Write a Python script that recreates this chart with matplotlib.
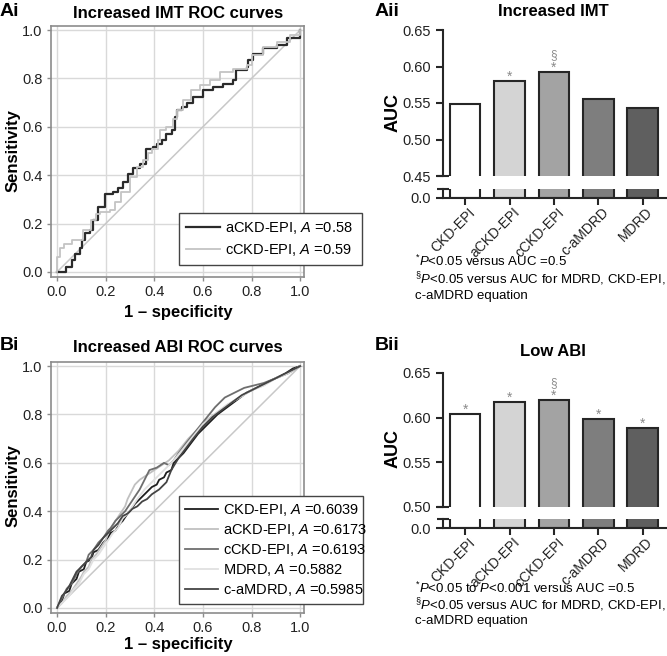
import matplotlib
matplotlib.use("Agg")
from matplotlib import pyplot as plt
from matplotlib.transforms import ScaledTranslation, blended_transform_factory

plt.rcParams['font.family'] = ['Liberation Sans', 'DejaVu Sans']
plt.rcParams['mathtext.fontset'] = 'custom'
plt.rcParams['mathtext.rm'] = 'Liberation Sans'
plt.rcParams['mathtext.it'] = 'Liberation Sans:italic'
plt.rcParams['mathtext.bf'] = 'Liberation Sans:bold'

# ---- data ----
equations = ["CKD-EPI", "aCKD-EPI", "cCKD-EPI", "c-aMDRD", "MDRD"]

imt_auc = [0.548, 0.580, 0.592, 0.555, 0.543]
imt_star = [False, True, True, False, False]
imt_sect = [False, False, True, False, False]

abi_auc = [0.6039, 0.6173, 0.6193, 0.5985, 0.5882]
abi_star = [True, True, True, True, True]
abi_sect = [False, False, True, False, False]

# Increased IMT ROC curves (step curves)
imt_ackd_x = [0, .01, .038, .06, .073, .093, .104, .114, .135, .148, .169, .19, .196, .23, .25,
              .272, .293, .313, .34, .364, .396, .41, .43, .45, .471, .485, .492, .512, .533,
              .56, .602, .643, .684, .725, .736, .78, .787, .808, .849, .903, .945, 1]
imt_ackd_y = [0, 0, .02, .05, .076, .097, .131, .159, .172, .214, .269, .269, .324, .331, .345,
              .372, .407, .428, .448, .51, .517, .531, .545, .572, .586, .641, .669, .683, .697,
              .724, .752, .766, .779, .793, .834, .848, .876, .903, .924, .938, .966, 1]
imt_cckd_x = [0, 0, .01, .03, .06, .093, .107, .141, .162, .176, .217, .238, .265, .3, .327,
              .354, .375, .389, .416, .423, .45, .478, .492, .519, .553, .588, .629, .67, .725,
              .78, .8, .849, .903, .959, 1]
imt_cckd_y = [0, .06, .097, .117, .131, .131, .172, .214, .241, .248, .255, .29, .331, .393, .434,
              .462, .49, .51, .545, .586, .6, .634, .669, .71, .752, .772, .793, .828, .841,
              .855, .897, .931, .952, .979, 1]

# Increased ABI ROC curves
abi_ckd_x = [0, .02, .03, .05, .06, .08, .09, .11, .12, .14, .15, .17, .19, .21, .22, .24, .26,
             .27, .29, .30, .32, .33, .35, .36, .38, .39, .41, .42, .44, .45, .47, .48, .5, .52,
             .55, .58, .62, .66, .70, .74, .78, .82, .86, .90, .94, .97, 1]
abi_ckd_y = [0, .03, .06, .07, .10, .12, .15, .16, .19, .20, .23, .24, .27, .29, .31, .32, .35,
             .36, .39, .40, .43, .44, .46, .47, .49, .50, .51, .53, .54, .56, .57, .60, .62, .64,
             .68, .72, .76, .80, .83, .86, .89, .91, .93, .95, .97, .99, 1]
abi_ackd_x = [0, .02, .04, .06, .08, .1, .11, .13, .14, .16, .18, .2, .21, .23, .24, .26, .28,
              .29, .3, .32, .34, .37, .4, .43, .46, .5, .54, .58, .62, .66, .7, .75, .8, .85,
              .9, .95, 1]
abi_ackd_y = [0, .02, .05, .07, .10, .13, .15, .17, .20, .22, .25, .28, .31, .34, .36, .39, .42,
              .45, .47, .51, .53, .55, .57, .59, .61, .65, .70, .74, .78, .81, .84, .87, .9, .92,
              .95, .97, 1]
abi_cckd_x = [0, .02, .04, .06, .08, .1, .12, .13, .15, .17, .19, .21, .22, .24, .26, .28, .3,
              .32, .34, .36, .38, .41, .44, .46, .48, .5, .53, .57, .61, .65, .69, .73, .77, .81,
              .85, .9, .95, 1]
abi_cckd_y = [0, .04, .08, .10, .14, .17, .19, .22, .24, .27, .29, .32, .33, .36, .38, .40, .43,
              .46, .49, .53, .57, .58, .60, .59, .61, .64, .68, .73, .78, .83, .87, .89, .91, .92,
              .93, .95, .97, 1]
abi_mdrd_x = [0, .03, .05, .07, .09, .11, .13, .15, .17, .19, .21, .23, .25, .27, .29, .31, .33,
              .36, .4, .44, .48, .52, .56, .6, .65, .7, .75, .8, .85, .9, .95, 1]
abi_mdrd_y = [0, .03, .05, .08, .10, .14, .16, .20, .22, .25, .28, .31, .33, .37, .39, .42, .45,
              .49, .53, .57, .61, .66, .71, .76, .8, .84, .87, .9, .92, .95, .97, 1]
abi_camdrd_x = [0, .02, .03, .05, .06, .08, .1, .12, .14, .15, .17, .19, .21, .23, .25, .27, .29,
                .31, .33, .35, .37, .39, .42, .45, .47, .5, .53, .56, .6, .64, .68, .72, .76, .8,
                .84, .88, .92, .96, 1]
abi_camdrd_y = [0, .05, .06, .09, .11, .15, .17, .19, .21, .24, .26, .29, .31, .33, .35, .38, .39,
                .41, .42, .44, .45, .47, .49, .52, .57, .62, .66, .70, .75, .79, .82, .85, .88,
                .90, .92, .94, .96, .98, 1]

bar_colors = ["#ffffff", "#d4d4d4", "#a3a3a3", "#7e7e7e", "#5f5f5f"]

W, H = 667, 656
fig = plt.figure(figsize=(W / 100, H / 100), dpi=100)


def px_axes(left, top, right, bottom):
    return fig.add_axes([left / W, 1 - bottom / H, (right - left) / W, (bottom - top) / H])


def px_text(x, y, s, **kw):
    return fig.text(x / W, 1 - y / H, s, **kw)


def roc_panel(top, curves, legend_box, spacing):
    ax = px_axes(51, top, 304, top + 251)
    ax.set_xlim(-0.025, 1.016)
    ax.set_ylim(-0.021, 1.017)
    ax.set_xticks([0, 0.2, 0.4, 0.6, 0.8, 1.0])
    ax.set_yticks([0, 0.2, 0.4, 0.6, 0.8, 1.0])
    ax.xaxis.set_major_formatter(lambda v, p: f"{v:.1f}")
    ax.yaxis.set_major_formatter(lambda v, p: f"{v:.1f}")
    ax.grid(color="#d9d9d9", lw=1)
    ax.set_axisbelow(True)
    for s in ax.spines.values():
        s.set_color("#8c8c8c")
        s.set_linewidth(1.2)
    ax.tick_params(length=3, width=1, color="#8c8c8c", labelsize=10.5, labelcolor="#222222", pad=3)
    ax.plot([0, 1], [0, 1], color="#c8c8c8", lw=1.1, zorder=2)
    for x, y, lab, col, lw, ds in curves:
        ax.plot(x, y, color=col, lw=lw, label=lab, drawstyle=ds, zorder=3)
    l, t, r, b = legend_box
    leg = ax.legend(loc="upper left", bbox_to_anchor=(l / W, 1 - b / H, (r - l) / W, (b - t) / H),
                    bbox_transform=fig.transFigure, mode="expand", fontsize=10.5, frameon=True,
                    fancybox=False, handlelength=2.3, handletextpad=0.35, borderpad=spacing[1],
                    labelspacing=spacing[0], borderaxespad=0, framealpha=1)
    leg.get_frame().set_edgecolor("#444444")
    leg.get_frame().set_linewidth(1)
    return ax


def bar_panel(top, bottom, low_top, low_bottom, ylo, yticks, values, stars, sects):
    ax = px_axes(443, top, 667, bottom)
    axl = px_axes(443, low_top, 667, low_bottom)
    pos = list(range(len(values)))
    for a in (ax, axl):
        a.bar(pos, values, width=0.69, color=bar_colors, edgecolor="#262626", linewidth=1.5)
        a.set_xlim(-0.5, 4.55)
        a.spines["top"].set_visible(False)
        a.spines["right"].set_visible(False)
        a.spines["left"].set_linewidth(1.5)
        a.spines["bottom"].set_linewidth(1.5)
        a.spines["left"].set_color("#262626")
        a.spines["bottom"].set_color("#262626")
        a.tick_params(length=5, width=1.5, color="#262626", labelsize=10.5, labelcolor="#222222")
    ax.set_ylim(ylo, 0.65)
    ax.set_yticks(yticks)
    ax.yaxis.set_major_formatter(lambda v, p: f"{v:.2f}")
    ax.spines["bottom"].set_visible(False)
    ax.set_xticks([])
    ax.plot([0], [0], marker="_", ms=9, mew=1.5, color="#262626", transform=ax.transAxes, clip_on=False)
    axl.set_ylim(0, 0.012)
    axl.set_yticks([0])
    axl.yaxis.set_major_formatter(lambda v, p: f"{v:.1f}")
    axl.plot([0], [1], marker="_", ms=9, mew=1.5, color="#262626", transform=axl.transAxes, clip_on=False)
    axl.set_xticks(pos)
    axl.tick_params(axis="x", labelbottom=False)
    trans = blended_transform_factory(axl.transData, axl.transAxes) + \
        ScaledTranslation(0.03, -0.07, fig.dpi_scale_trans)
    for p, name in zip(pos, equations):
        axl.text(p, 0, name, transform=trans, rotation=45, ha="right", va="top",
                 rotation_mode="anchor", fontsize=10, color="#222222")
    for p, v, st, se in zip(pos, values, stars, sects):
        if st:
            ax.annotate("*", (p, v), xytext=(0, 3.4), textcoords="offset points", ha="center",
                        va="center", fontsize=10, color="#8a8a8a")
        if se:
            ax.annotate("§", (p, v), xytext=(0, 12.5), textcoords="offset points", ha="center",
                        va="center", fontsize=8.5, color="#8a8a8a")
    return ax


# ---- Ai ----
roc_panel(26, [(imt_ackd_x, imt_ackd_y, r"aCKD-EPI, $\mathit{A}$ =0.58", "#2b2b2b", 1.6, "steps-post"),
               (imt_cckd_x, imt_cckd_y, r"cCKD-EPI, $\mathit{A}$ =0.59", "#c4c4c4", 1.3, "steps-post")],
          (179, 213, 362, 262), (0.4, 0.5))
px_text(0, 12, "Ai", fontsize=14, fontweight="bold", va="center", ha="left")
px_text(178, 13, "Increased IMT ROC curves", fontsize=12, fontweight="bold", va="center", ha="center")
px_text(13, 151, "Sensitivity", fontsize=12, fontweight="bold", va="center", ha="center", rotation=90)
px_text(178, 312, "1 – specificity", fontsize=12, fontweight="bold", va="center", ha="center")

# ---- Bi ----
roc_panel(362, [(abi_ckd_x, abi_ckd_y, r"CKD-EPI, $\mathit{A}$ =0.6039", "#1e1e1e", 1.3, "default"),
                (abi_ackd_x, abi_ackd_y, r"aCKD-EPI, $\mathit{A}$ =0.6173", "#c0c0c0", 1.3, "default"),
                (abi_cckd_x, abi_cckd_y, r"cCKD-EPI, $\mathit{A}$ =0.6193", "#6e6e6e", 1.3, "default"),
                (abi_mdrd_x, abi_mdrd_y, r"MDRD, $\mathit{A}$ =0.5882", "#e0e0e0", 1.3, "default"),
                (abi_camdrd_x, abi_camdrd_y, r"c-aMDRD, $\mathit{A}$ =0.5985", "#444444", 1.3, "default")],
          (179, 496, 363, 608), (0.28, 0.4))
px_text(0, 346, "Bi", fontsize=14, fontweight="bold", va="center", ha="left")
px_text(178, 348, "Increased ABI ROC curves", fontsize=12, fontweight="bold", va="center", ha="center")
px_text(13, 486, "Sensitivity", fontsize=12, fontweight="bold", va="center", ha="center", rotation=90)
px_text(178, 645, "1 – specificity", fontsize=12, fontweight="bold", va="center", ha="center")

# ---- Aii ----
bar_panel(30, 176, 189, 198, 0.45, [0.45, 0.50, 0.55, 0.60, 0.65], imt_auc, imt_star, imt_sect)
px_text(375, 11, "Aii", fontsize=14, fontweight="bold", va="center", ha="left")
px_text(553, 11, "Increased IMT", fontsize=12, fontweight="bold", va="center", ha="center")
px_text(393, 113, "AUC", fontsize=13, fontweight="bold", va="center", ha="center", rotation=90)
px_text(415, 261, r"$^{*}$$\mathit{P}$<0.05 versus AUC =0.5", fontsize=9.5, va="center")
px_text(415, 279, r"$^{\S}$$\mathit{P}$<0.05 versus AUC for MDRD, CKD-EPI,", fontsize=9.5, va="center")
px_text(415, 296, "c-aMDRD equation", fontsize=9.5, va="center")

# ---- Bii ----
bar_panel(373, 507, 519, 528, 0.50, [0.50, 0.55, 0.60, 0.65], abi_auc, abi_star, abi_sect)
px_text(375, 346, "Bii", fontsize=14, fontweight="bold", va="center", ha="left")
px_text(553, 352, "Low ABI", fontsize=12, fontweight="bold", va="center", ha="center")
px_text(393, 448, "AUC", fontsize=13, fontweight="bold", va="center", ha="center", rotation=90)
px_text(415, 588, r"$^{*}$$\mathit{P}$<0.05 to $\mathit{P}$<0.001 versus AUC =0.5", fontsize=9.5, va="center")
px_text(415, 605, r"$^{\S}$$\mathit{P}$<0.05 versus AUC for MDRD, CKD-EPI,", fontsize=9.5, va="center")
px_text(415, 621, "c-aMDRD equation", fontsize=9.5, va="center")

fig.savefig("out.png", dpi=100)
